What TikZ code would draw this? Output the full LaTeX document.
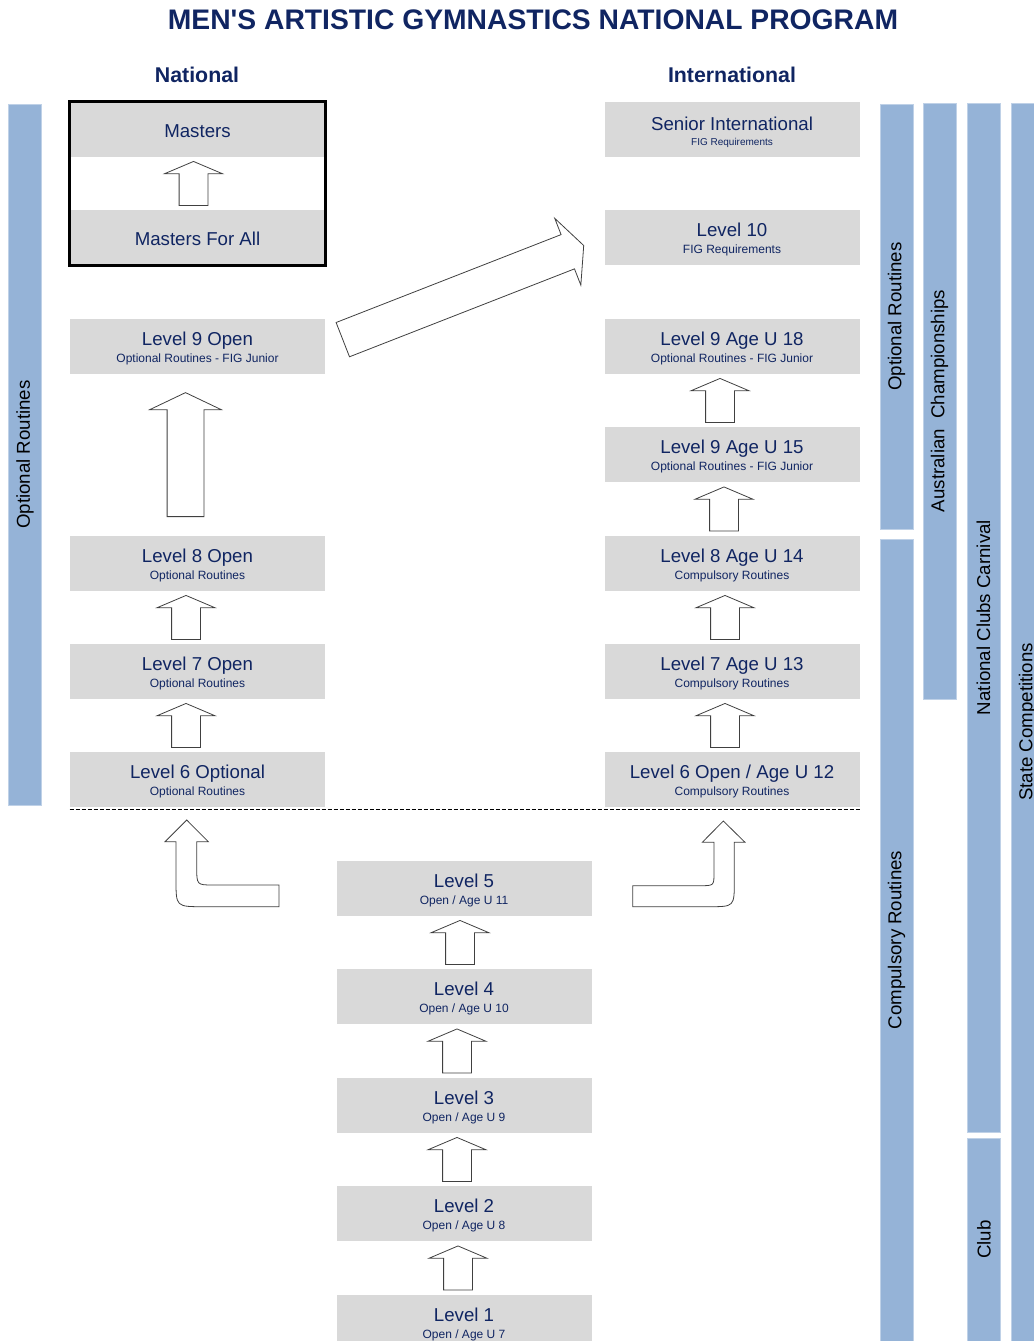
\documentclass[tikz,border=0pt]{standalone}
\usepackage{fontspec}
\setmainfont{Liberation Sans}[Ligatures=TeXOff]
\usetikzlibrary{positioning,calc,shapes.arrows}

\definecolor{navy}{RGB}{16,37,98}
\definecolor{boxgray}{RGB}{217,217,217}
\definecolor{barblue}{RGB}{149,179,215}

\begin{document}
\begin{tikzpicture}[x=0.75pt,y=-0.75pt]
    \tikzstyle{level}=[fill=boxgray,minimum width=191.25pt,minimum height=41.25pt,inner sep=0pt]
    \tikzstyle{maintxt}=[text=navy,font=\fontsize{14}{16}\selectfont,inner sep=0pt,text height=10pt,text depth=0pt]
    \tikzstyle{subtxt}=[text=navy,font=\fontsize{9}{11}\selectfont,inner sep=0pt,text height=6.4pt,text depth=0pt]
    \tikzstyle{bar}=[fill=barblue,draw=barblue!60!white,line width=0.5pt,rotate=90,minimum height=24.75pt,inner sep=0pt,font=\fontsize{14}{16}\selectfont]
    \tikzstyle{uparr}=[single arrow,draw=black!75,fill=white,line width=0.6pt,rotate=90,minimum height=33pt,inner xsep=0pt,inner ysep=10.5pt,single arrow head extend=10.9pt,single arrow tip angle=134,single arrow head indent=0pt]
    \tikzstyle{bigarr}=[single arrow,draw=black!75,fill=white,line width=0.6pt,minimum height=93pt,inner xsep=0pt,inner ysep=13.5pt,single arrow head extend=13.1pt,single arrow tip angle=129,single arrow head indent=0pt]
    \tikzstyle{bendarr}=[draw=black!75,fill=white,line width=0.6pt]
    \tikzstyle{head}=[text=navy,font=\bfseries\fontsize{16}{18}\selectfont]

    \useasboundingbox (0,0) rectangle (1034,1341);
    \clip (0,0) rectangle (1034,1341);

    \node[text=navy,font=\bfseries\fontsize{21.2}{24}\selectfont] (title) at (533,20) {MEN'S ARTISTIC GYMNASTICS NATIONAL PROGRAM};
    \node[head] (nat) at (197,75) {National};
    \node[head] (int) at (732,75) {International};

    % competition bars
    \foreach \name/\x/\ya/\yb/\txt in {B-nopt/25/104/805/Optional Routines,
            B-iopt/896.5/104/529/Optional Routines, B-comp/896.5/539/1341/Compulsory Routines,
            B-aus/939.5/103/699/Australian\ \ Championships, B-ncc/983.5/103/1132/National Clubs Carnival,
            B-club/984/1138/1341/Club, B-state/1027.5/103/1341/State Competitions}
        \node[bar,minimum width={(\yb-\ya)*0.75pt}] (\name) at (\x,{(\ya+\yb)/2}) {\txt};

    \node[level] (N-m) at (197.5,129.5) {};
    \node[maintxt] (N-m-t) at ([yshift=-21.75pt]N-m.north) {Masters};
    \node[level] (N-mfa) at (197.5,237.5) {};
    \node[maintxt] (N-mfa-t) at ([yshift=-21.75pt]N-mfa.north) {Masters For All};
    \draw[line width=2.25pt] (N-m.north west) rectangle (N-mfa.south east);

    \node[level] (I-s) at (732,129.5) {};
    \node[maintxt] (I-s-t) at ([yshift=-16.5pt]I-s.north) {Senior International};
    \node[subtxt,font=\fontsize{7.5}{9}\selectfont,text height=5.4pt] (I-s-s) at ([yshift=-30pt]I-s.north) {FIG Requirements};

    \foreach \name/\x/\y/\main/\sub in {
            N-9/197.5/319/Level 9 Open/Optional Routines - FIG Junior,
            N-8/197.5/536/Level 8 Open/Optional Routines,
            N-7/197.5/644/Level 7 Open/Optional Routines,
            N-6/197.5/752/Level 6 Optional/Optional Routines,
            I-10/732/210/Level 10/FIG Requirements,
            I-9b/732/319/Level 9 Age U 18/Optional Routines - FIG Junior,
            I-9a/732/427/Level 9 Age U 15/Optional Routines - FIG Junior,
            I-8/732/536/Level 8 Age U 14/Compulsory Routines,
            I-7/732/644/Level 7 Age U 13/Compulsory Routines,
            I-6/732/752/{Level 6 Open / Age U 12}/Compulsory Routines,
            M-5/464/861/Level 5/{Open / Age U 11},
            M-4/464/969/Level 4/{Open / Age U 10},
            M-3/464/1078/Level 3/{Open / Age U 9},
            M-2/464/1186/Level 2/{Open / Age U 8},
            M-1/464/1295/Level 1/{Open / Age U 7}}
    {
        \node[level] (\name) at (\x,\y+27.5) {};
        \node[maintxt] (\name-t) at ([yshift=-15.2pt]\name.north) {\main};
        \node[subtxt] (\name-s) at ([yshift=-29.5pt]\name.north) {\sub};
    }

    \draw[dash pattern=on 3pt off 1.5pt,line width=0.6pt] ([yshift=-1.5pt]N-6.south west) -- ([yshift=-1.5pt]I-6.south east);

    \foreach \from/\to/\dx in {N-mfa/N-m/-4, N-7/N-8/-11.5, N-6/N-7/-11.5,
            I-9a/I-9b/-12, I-8/I-9a/-8, I-7/I-8/-7, I-6/I-7/-7,
            M-4/M-5/-4, M-3/M-4/-7, M-2/M-3/-7, M-1/M-2/-6}
        \node[uparr] (\from-\to) at ($(\from.north)!.5!(\to.south)+(\dx,3)$) {};

    \node[bigarr,rotate=90] (N-8-N-9) at ($(N-8.north)!.5!(N-9.south)+(-12,4)$) {};
    \path (N-9.east) -- node[bigarr,sloped,pos=0.48,minimum height=194pt] (N-9-I-10) {} (I-10.west);

    % bent arrows from Level 5 up to both Level 6 boxes
    \draw[bendarr] (279,885) -- (213.3,885) .. controls (196.7,885) .. (196.7,866.7) -- (196.7,841.7)
        -- (208.3,841.7) -- (186.7,820) -- (165,841.7) -- (176,841.7) -- (176,880)
        .. controls (176,906.7) .. (203.3,906.7) -- (279,906.7) -- cycle;
    \draw[bendarr] (632.7,885.7) -- (700,885.7) .. controls (714,885.7) .. (714,872.7) -- (714,842.3)
        -- (702.3,842.3) -- (723.3,821) -- (745,842.3) -- (734.3,842.3) -- (734.3,881)
        .. controls (734.3,906.7) .. (709,906.7) -- (632.7,906.7) -- cycle;
\end{tikzpicture}
\end{document}
